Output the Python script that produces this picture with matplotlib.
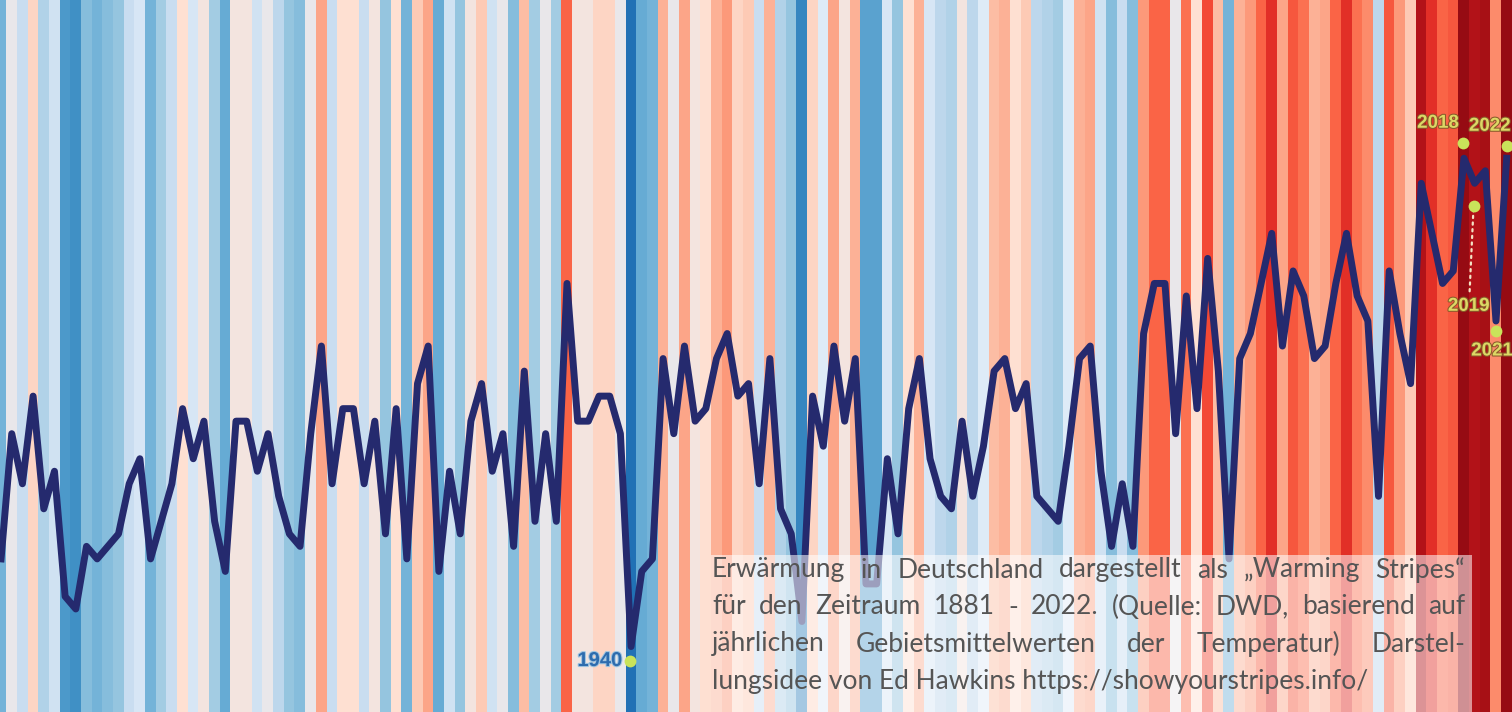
import numpy as np
import matplotlib
matplotlib.use("Agg")
import matplotlib.pyplot as plt
from matplotlib.colors import LinearSegmentedColormap
from matplotlib.transforms import offset_copy
import matplotlib.patheffects as pe

# Jahresmittel der Lufttemperatur Deutschland (°C)
years = np.arange(1881, 2023)
temps = [
    7.3, 8.3, 7.9, 8.6, 7.7, 8.0, 7.0, 6.9, 7.4, 7.3,   # 1881-1890
    7.4, 7.5, 7.9, 8.1, 7.3, 7.6, 7.9, 8.5, 8.1, 8.4,   # 1891-1900
    7.6, 7.2, 8.4, 8.4, 8.0, 8.3, 7.8, 7.5, 7.4, 8.3,   # 1901-1910
    9.0, 7.9, 8.5, 8.5, 7.9, 8.4, 7.5, 8.5, 7.3, 8.7,   # 1911-1920
    9.0, 7.2, 8.0, 7.5, 8.4, 8.7, 8.0, 8.3, 7.4, 8.8,   # 1921-1930
    7.6, 8.3, 7.6, 9.5, 8.4, 8.4, 8.6, 8.6, 8.3, 6.6,   # 1931-1940
    7.2, 7.3, 8.9, 8.3, 9.0, 8.4, 8.5, 8.9, 9.1, 8.6,   # 1941-1950
    8.7, 7.9, 8.9, 7.7, 7.5, 6.8, 8.6, 8.2, 9.0, 8.4,   # 1951-1960
    8.9, 7.1, 7.1, 8.1, 7.5, 8.5, 8.9, 8.1, 7.8, 7.7,   # 1961-1970
    8.4, 7.8, 8.2, 8.8, 8.9, 8.5, 8.7, 7.8, 7.7, 7.6,   # 1971-1980
    8.2, 8.9, 9.0, 8.0, 7.4, 7.9, 7.4, 9.1, 9.5, 9.5,   # 1981-1990
    8.3, 9.4, 8.5, 9.7, 8.8, 7.3, 8.9, 9.1, 9.5, 9.9,   # 1991-2000
    9.0, 9.6, 9.4, 8.9, 9.0, 9.5, 9.9, 9.4, 9.2, 7.8,   # 2001-2010
    9.6, 9.1, 8.7, 10.3, 9.9, 9.5, 9.6, 10.5, 10.3, 10.4,  # 2011-2020
    9.2, 10.5,                                          # 2021-2022
]
temps = np.array(temps)

# markierte Jahre: (Punktversatz px, Beschriftungsversatz px)
marked = {
    1940: ((-1, -14), (-9, -14)),
    2018: ((-1, 15), (-26, 35)),
    2022: ((0, 12), (-17, 32)),
    2019: ((-1, -23), (-6, -123)),
    2021: ((0, -10), (-4, -30)),
}

caption_lines = [
    "Erwärmung in Deutschland dargestellt als „Warming Stripes“",
    "für den Zeitraum 1881 - 2022. (Quelle: DWD, basierend auf",
    "jährlichen Gebietsmittelwerten der Temperatur) Darstel-",
    "lungsidee von Ed Hawkins https://showyourstripes.info/",
]

stripe_colors = ['#08306b', '#08519c', '#2171b5', '#4292c6',
                 '#6baed6', '#9ecae1', '#c6dbef', '#deebf7',
                 '#fee0d2', '#fcbba1', '#fc9272', '#fb6a4a',
                 '#ef3b2c', '#cb181d', '#a50f15', '#67000d']
cmap = LinearSegmentedColormap.from_list("stripes", stripe_colors)
norm = plt.Normalize(5.95, 10.75)

fig = plt.figure(figsize=(15.12, 7.12), dpi=100)
ax = fig.add_axes([0, 0, 1, 1])
ymin, ymax = 6.077, 11.764
ax.set_xlim(1880.9, 2022.5)
ax.set_ylim(ymin, ymax)
ax.axis("off")

# Streifen
ax.bar(years, ymax - ymin, bottom=ymin, width=1.04,
       color=cmap(norm(temps)), linewidth=0, zorder=0)

# Temperaturlinie
ax.plot(years, temps, color="#252a6e", linewidth=5, zorder=3,
        solid_joinstyle="round")

# markierte Jahre
for yr, (dot_off, lab_off) in marked.items():
    t = temps[yr - 1881]
    tr = offset_copy(ax.transData, fig=fig, x=dot_off[0], y=dot_off[1],
                     units="dots")
    ax.plot([yr], [t], "o", transform=tr, markersize=8.5,
            color="#c9e35a", markeredgewidth=0, zorder=5)
    if yr == 1940:
        ax.annotate(str(yr), xy=(yr, t), xytext=lab_off,
                    textcoords="offset pixels", ha="right", va="center",
                    fontsize=14.5, fontweight="bold", color="#2e6cae",
                    family="Liberation Sans", zorder=6,
                    path_effects=[pe.withStroke(linewidth=1.5,
                                                foreground="#9fc4e0")])
    else:
        ax.annotate(str(yr), xy=(yr, t), xytext=lab_off,
                    textcoords="offset pixels", ha="center", va="center",
                    fontsize=13.5, fontweight="bold", color="#dcd865",
                    family="Liberation Sans", zorder=6,
                    path_effects=[pe.withStroke(linewidth=1.5,
                                                foreground="#8a5a2a")])

# gepunktete Linie 2019
t19 = temps[2019 - 1881]
ax.annotate("", xy=(2019, t19), xytext=(-5, -108),
            textcoords="offset pixels",
            arrowprops=dict(arrowstyle="-", linestyle=(0, (1, 2)),
                            color="#f4e3c4", lw=1.6, shrinkA=0, shrinkB=20),
            zorder=4)

# Textkasten
box_x0, box_x1, box_top = 711 / 1512, 1472 / 1512, 1 - 555 / 712
ax.add_patch(plt.Rectangle((box_x0, 0), box_x1 - box_x0, box_top,
                           transform=ax.transAxes, facecolor="white",
                           alpha=0.55, linewidth=0, zorder=7))

renderer = fig.canvas.get_renderer()
text_x0, text_x1 = 712 / 1512, 1465 / 1512
line_y = [1 - 570 / 712, 1 - 607 / 712, 1 - 644 / 712, 1 - 681 / 712]
text_kw = dict(fontsize=19, color="#555555", family="Lato",
               va="center", ha="left", transform=ax.transAxes, zorder=8)

for k, line in enumerate(caption_lines):
    if k == len(caption_lines) - 1:
        ax.text(text_x0, line_y[k], line, **text_kw)
        continue
    words = line.split(" ")
    objs = [ax.text(0, line_y[k], w, **text_kw) for w in words]
    widths = [o.get_window_extent(renderer).width / 1512 for o in objs]
    gap = (text_x1 - text_x0 - sum(widths)) / (len(words) - 1)
    x = text_x0
    for o, w in zip(objs, widths):
        o.set_x(x)
        x += w + gap

fig.savefig("out.png", dpi=100)
